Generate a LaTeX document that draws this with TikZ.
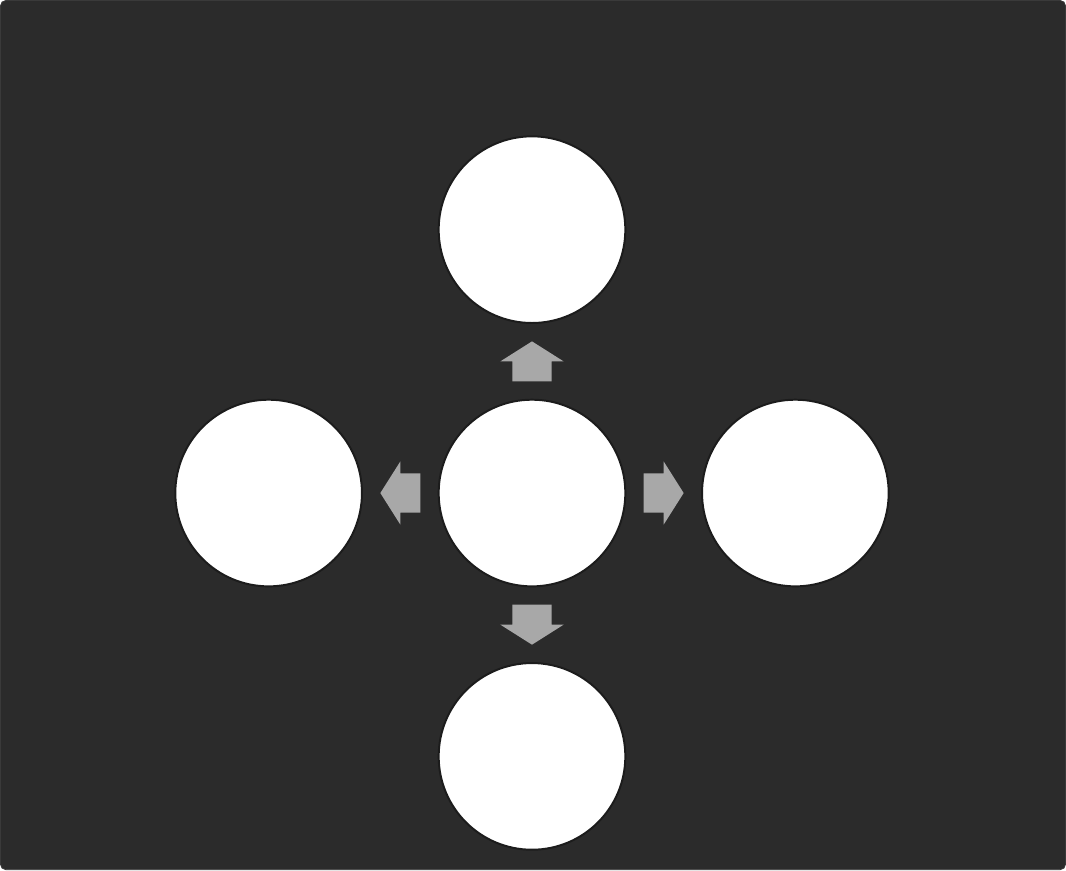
\documentclass[tikz,border=0pt]{standalone}
\usetikzlibrary{positioning,calc}

\definecolor{boardgray}{HTML}{2B2B2B}
\definecolor{edgegray}{HTML}{3A3A3A}
\definecolor{arrowgray}{HTML}{A8A8A8}
\definecolor{rimgray}{HTML}{1C1C1C}

\begin{document}
\begin{tikzpicture}[
    disc/.style={circle, draw=rimgray, line width=1.4pt, fill=white, minimum size=4.67cm, inner sep=0pt},
    blockarrow/.style={fill=arrowgray},
    node distance=1.87cm]

    % board
    \fill[boardgray, draw=edgegray, line width=0.6pt, rounded corners=4pt]
        (-13.3,-9.425) rectangle (13.35,12.325);
    \useasboundingbox (-13.3,-9.425) rectangle (13.35,12.325);

    % hub and satellites
    \node[disc] (hub) at (0,0) {};
    \node[disc, above=of hub] (top) {};
    \node[disc, left=of hub] (west) {};
    \node[disc, right=of hub] (east) {};
    \node[disc, below=of hub] (bottom) {};

    % block arrows between hub and satellites
    \foreach \ang/\dst in {90/top, 180/west, 0/east, 270/bottom}{
        \coordinate (mid\dst) at ($(hub)!0.5!(\dst)$);
        \fill[blockarrow, shift={(mid\dst)}, rotate=\ang]
            (-0.5,-0.49) -- (0,-0.49) -- (0,-0.79) -- (0.5,0)
            -- (0,0.79) -- (0,0.49) -- (-0.5,0.49) -- cycle;
    }
\end{tikzpicture}
\end{document}
